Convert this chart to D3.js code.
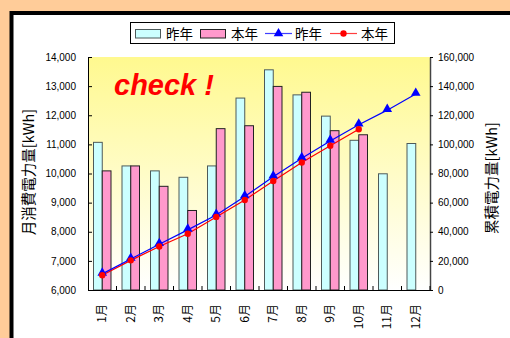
<!DOCTYPE html>
<html>
<head>
<meta charset="utf-8">
<script src="https://cdn.jsdelivr.net/npm/d3@7"></script>
<style>
  html, body { margin: 0; padding: 0; background: #FFCC99; }
  svg { display: block; }
  text { font-family: "Liberation Sans", Arial, sans-serif; }
  .jp { font-family: "Noto Sans CJK JP", "Liberation Sans", sans-serif; }
</style>
</head>
<body>
<svg id="chart" width="510" height="338"></svg>
<script>
// Monthly consumption (bars) and running totals (lines), kWh
const months = ["1月", "2月", "3月", "4月", "5月", "6月", "7月", "8月", "9月", "10月", "11月", "12月"];
const lastYear = [11070, 10260, 10090, 9870, 10260, 12590, 13560, 12700, 11970, 11140, 9990, 11030];
const thisYear = [10090, 10260, 9560, 8730, 11540, 11640, 12990, 12790, 11470, 11330];
const lastYearTotal = [11070, 21330, 31420, 41290, 51550, 64140, 77700, 90400, 102370, 113510, 123500, 134530];
const thisYearTotal = [10090, 20350, 29910, 38640, 50180, 61820, 74810, 87600, 99070, 110400];
const leftTicks = [6000, 7000, 8000, 9000, 10000, 11000, 12000, 13000, 14000];
const rightTicks = [0, 20000, 40000, 60000, 80000, 100000, 120000, 140000, 160000];
const seriesNames = ["昨年", "本年"];

const svg = d3.select("#chart");
const plot = { left: 88, right: 430, top: 57, bottom: 290 };

// outer frame
svg.append("rect").attr("x", 11.5).attr("y", 13).attr("width", 520).attr("height", 340)
  .attr("fill", "#fff").attr("stroke", "#000").attr("stroke-width", 4);

// scales
const x = d3.scaleBand(months, [plot.left, plot.right]).paddingInner(0.386).paddingOuter(0.193);
const xs = d3.scaleBand(seriesNames, [0, x.bandwidth()]);
const yL = d3.scaleLinear([6000, 14000], [plot.bottom, plot.top]);
const yR = d3.scaleLinear([0, 160000], [plot.bottom, plot.top]);
const fmt = d3.format(",");

// plot background gradient
const defs = svg.append("defs");
const grad = defs.append("linearGradient").attr("id", "bg").attr("x1", 0).attr("y1", 0).attr("x2", 0).attr("y2", 1);
grad.append("stop").attr("offset", "0%").attr("stop-color", "#FFF98F");
grad.append("stop").attr("offset", "100%").attr("stop-color", "#FFFFFF");
svg.append("rect").attr("x", plot.left).attr("y", plot.top)
  .attr("width", plot.right - plot.left).attr("height", plot.bottom - plot.top)
  .attr("fill", "url(#bg)");

// bars
const barData = [];
months.forEach((m, i) => {
  barData.push({ m, s: "昨年", v: lastYear[i] });
  if (i < thisYear.length) barData.push({ m, s: "本年", v: thisYear[i] });
});
svg.append("g").selectAll("rect").data(barData).join("rect")
  .attr("x", d => x(d.m) + xs(d.s))
  .attr("y", d => yL(d.v))
  .attr("width", xs.bandwidth())
  .attr("height", d => yL(6000) - yL(d.v))
  .attr("fill", d => d.s === "昨年" ? "#CCFFFF" : "#FF99CC")
  .attr("stroke", d => d.s === "昨年" ? "#4d5a5a" : "#222")
  .attr("stroke-width", 1);

// "check !" note
svg.append("text").attr("x", 114).attr("y", 94.5)
  .attr("font-size", 29).attr("font-weight", "bold").attr("font-style", "italic")
  .attr("fill", "#FF0000").text("check !");

// left axis
const axL = svg.append("g").attr("transform", `translate(${plot.left},0)`)
  .call(d3.axisLeft(yL).tickValues(leftTicks).tickFormat(fmt).tickSizeInner(-4).tickSizeOuter(0).tickPadding(12));
axL.select(".domain").attr("stroke", "#000");
axL.selectAll("text").attr("font-size", 10).attr("fill", "#000")
  .attr("font-family", "Liberation Sans, Arial, sans-serif");

// right axis
const axR = svg.append("g").attr("transform", `translate(${plot.right},0)`)
  .call(d3.axisRight(yR).tickValues(rightTicks).tickFormat(fmt).tickSizeInner(3).tickSizeOuter(0).tickPadding(5));
axR.select(".domain").attr("stroke", "#444").attr("stroke-width", 1.5);
axR.selectAll("text").attr("font-size", 10).attr("fill", "#000")
  .attr("font-family", "Liberation Sans, Arial, sans-serif");

// bottom axis: labels at month centres, ticks on month boundaries
const axB = svg.append("g").attr("transform", `translate(0,${plot.bottom})`)
  .call(d3.axisBottom(x).tickSize(0).tickSizeOuter(0).tickPadding(0));
axB.select(".domain").attr("stroke", "#000");
axB.selectAll("text")
  .attr("class", "jp")
  .attr("font-size", 12).attr("fill", "#000")
  .attr("text-anchor", "end").attr("dy", "0.35em")
  .attr("transform", "translate(0,14) rotate(-90)")
  .attr("x", 0).attr("y", 0);
svg.append("g").selectAll("line").data(months).join("line")
  .attr("x1", m => x(m) + x.bandwidth() / 2 + x.step() / 2)
  .attr("x2", m => x(m) + x.bandwidth() / 2 + x.step() / 2)
  .attr("y1", plot.bottom).attr("y2", plot.bottom - 4)
  .attr("stroke", "#000");

// cumulative lines
const cx = (m) => x(m) + x.bandwidth() / 2;
const line = d3.line().x(d => cx(d.m)).y(d => yR(d.v));
const lastPts = lastYearTotal.map((v, i) => ({ m: months[i], v }));
const thisPts = thisYearTotal.map((v, i) => ({ m: months[i], v }));

svg.append("path").datum(thisPts).attr("d", line)
  .attr("fill", "none").attr("stroke", "#FF0000").attr("stroke-width", 1.2);
svg.append("path").datum(lastPts).attr("d", line)
  .attr("fill", "none").attr("stroke", "#0000FF").attr("stroke-width", 1.2);

const tri = d3.symbol().type(d3.symbolTriangle).size(40);
const dot = d3.symbol().type(d3.symbolCircle).size(32);
svg.append("g").selectAll("path").data(lastPts).join("path")
  .attr("d", tri).attr("fill", "#0000FF")
  .attr("transform", d => `translate(${cx(d.m)},${yR(d.v) - 1})`);
svg.append("g").selectAll("path").data(thisPts).join("path")
  .attr("d", dot).attr("fill", "#FF0000")
  .attr("transform", d => `translate(${cx(d.m)},${yR(d.v)})`);

// axis titles
svg.append("text").attr("class", "jp")
  .attr("transform", "translate(34,172) rotate(-90)")
  .attr("text-anchor", "middle").attr("font-size", 14.5).attr("fill", "#000")
  .text("月消費電力量[kWh]");
svg.append("text").attr("class", "jp")
  .attr("transform", "translate(497,178) rotate(-90)")
  .attr("text-anchor", "middle").attr("font-size", 14.5).attr("fill", "#000")
  .text("累積電力量[kWh]");

// legend
const lg = svg.append("g");
lg.append("rect").attr("x", 130.5).attr("y", 22.5).attr("width", 264).attr("height", 21)
  .attr("fill", "#fff").attr("stroke", "#000");
const lgItems = [
  { kind: "bar", fill: "#CCFFFF", stroke: "#4d5a5a", label: seriesNames[0], x0: 135, tx: 166 },
  { kind: "bar", fill: "#FF99CC", stroke: "#222", label: seriesNames[1], x0: 200, tx: 231 },
  { kind: "line", color: "#0000FF", sym: tri, label: seriesNames[0], x0: 265, tx: 295 },
  { kind: "line", color: "#FF0000", sym: dot, label: seriesNames[1], x0: 330, tx: 361 }
];
lgItems.forEach(it => {
  if (it.kind === "bar") {
    lg.append("rect").attr("x", it.x0 + 0.5).attr("y", 29.5).attr("width", 25).attr("height", 8.5)
      .attr("fill", it.fill).attr("stroke", it.stroke);
  } else {
    lg.append("line").attr("x1", it.x0).attr("x2", it.x0 + 27).attr("y1", 33.5).attr("y2", 33.5)
      .attr("stroke", it.color).attr("stroke-width", 1.2).attr("opacity", 0.75);
    lg.append("path").attr("d", it.sym).attr("fill", it.color)
      .attr("transform", `translate(${it.x0 + 13.5},${33.5})`);
  }
  lg.append("text").attr("class", "jp").attr("x", it.tx).attr("y", 38.5)
    .attr("font-size", 13.5).attr("fill", "#000").text(it.label);
});
</script>
</body>
</html>
